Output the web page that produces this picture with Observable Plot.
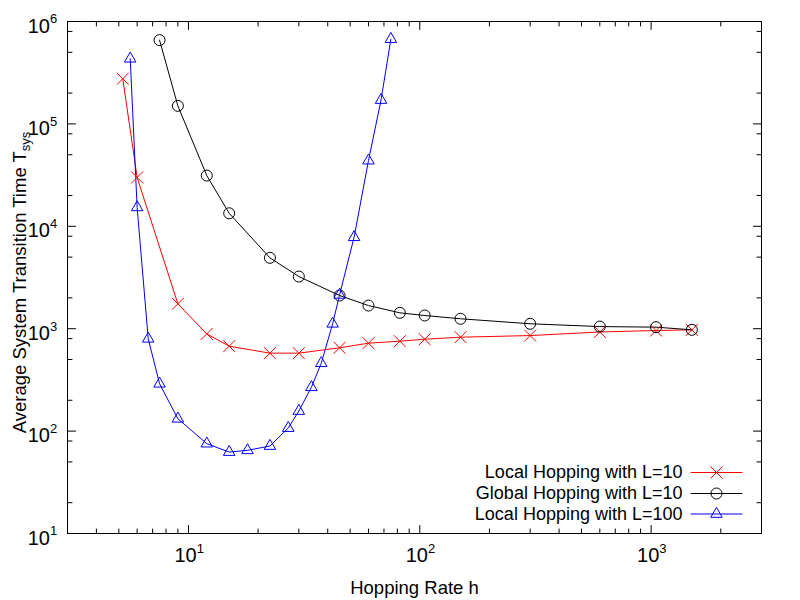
<!DOCTYPE html>
<html>
<head>
<meta charset="utf-8">
<script src="https://cdn.jsdelivr.net/npm/d3@7"></script>
<script src="https://cdn.jsdelivr.net/npm/@observablehq/plot@0.6"></script>
<style>
  html, body { margin: 0; padding: 0; background: white; }
</style>
</head>
<body>
<div id="chart"></div>
<script>
// ---- data ----
const localL10_h = [5.2, 6, 9, 12, 15, 22.5, 30, 45, 60, 82, 105, 150, 300, 600, 1050, 1500];
const localL10_T = [276000, 30000, 1750, 890, 675, 577, 577, 651, 722, 755, 789, 826, 857, 929, 960, 975];

const globalL10_h = [7.5, 9, 12, 15, 22.5, 30, 45, 60, 82, 105, 150, 300, 600, 1050, 1500];
const globalL10_T = [658000, 150000, 31300, 13400, 4920, 3230, 2110, 1683, 1429, 1346, 1250, 1117, 1049, 1035, 975];

const localL100_h = [5.6, 6, 6.7, 7.5, 9, 12, 15, 18, 22.5, 27, 30, 34, 37.5, 42, 45, 52, 60, 68, 75];
const localL100_T = [433000, 15300, 797, 290, 132, 75.4, 62.4, 64.9, 71.5, 107, 157, 268, 460, 1117, 2140, 7820, 43800, 171000, 673000];

const seriesNames = ["Local Hopping with L=10", "Global Hopping with L=10", "Local Hopping with L=100"];
const seriesColors = ["#ff0000", "#000000", "#0000ff"];
const seriesSymbols = ["times", "circle", "triangle2"];

const xMajorTicks = [10, 100, 1000];
const xMinorTicks = [4, 5, 6, 7, 8, 9, 20, 30, 40, 50, 60, 70, 80, 90, 200, 300, 400, 500, 600, 700, 800, 900, 2000];
const xTickExponents = ["1", "2", "3"];
const yMajorTicks = [10, 100, 1000, 10000, 100000, 1000000];
const yMinorTicks = [20, 50, 80, 200, 500, 800, 2000, 5000, 8000, 20000, 50000, 80000, 200000, 500000, 800000];
const yTickExponents = ["1", "2", "3", "4", "5", "6"];

const xTitle = "Hopping Rate h";
const yTitle = "Average System Transition Time T";
const yTitleSub = "sys";

// ---- build tables ----
const series = [
  localL10_h.map((h, i) => ({h, T: localL10_T[i], s: 0})),
  globalL10_h.map((h, i) => ({h, T: globalL10_T[i], s: 1})),
  localL100_h.map((h, i) => ({h, T: localL100_T[i], s: 2}))
];

const tickShape = {draw(context, l) { context.moveTo(0, 0); context.lineTo(0, -l); }};
const FONT = "'Liberation Sans', Arial, Helvetica, sans-serif";

function ticks(values, len) {
  return [
    Plot.vector(values, {x: d => d, frameAnchor: "bottom", length: len, rotate: 0, anchor: "start", shape: tickShape, stroke: "black", strokeWidth: 1}),
    Plot.vector(values, {x: d => d, frameAnchor: "top", length: len, rotate: 180, anchor: "start", shape: tickShape, stroke: "black", strokeWidth: 1})
  ];
}
function yticks(values, len) {
  return [
    Plot.vector(values, {y: d => d, frameAnchor: "left", length: len, rotate: 90, anchor: "start", shape: tickShape, stroke: "black", strokeWidth: 1}),
    Plot.vector(values, {y: d => d, frameAnchor: "right", length: len, rotate: -90, anchor: "start", shape: tickShape, stroke: "black", strokeWidth: 1})
  ];
}

const legendMarks = [];
const legendDy = [-61, -40, -19.5];
seriesNames.forEach((name, i) => {
  legendMarks.push(
    Plot.text([name], {frameAnchor: "bottom-right", text: d => d, dx: -79, dy: legendDy[i], textAnchor: "end", lineAnchor: "middle", fontSize: 18, fill: "black"}),
    Plot.vector([0], {frameAnchor: "bottom-right", dx: -70.5, dy: legendDy[i], length: 51, rotate: 90, anchor: "start", shape: tickShape, stroke: seriesColors[i], strokeWidth: 1}),
    Plot.dot([0], {frameAnchor: "bottom-right", dx: -45, dy: legendDy[i], symbol: seriesSymbols[i], r: 5.5, stroke: seriesColors[i], fill: "none", strokeWidth: 1})
  );
});

const chart = Plot.plot({
  width: 800,
  height: 600,
  marginLeft: 67,
  marginRight: 39,
  marginTop: 21,
  marginBottom: 67,
  x: {type: "log", domain: [3, 3000], axis: null},
  y: {type: "log", domain: [10, 1e6], axis: null},
  style: {fontFamily: FONT, background: "white", color: "black"},
  marks: [
    ...series.map((data, i) => Plot.line(data, {x: "h", y: "T", stroke: seriesColors[i], strokeWidth: 1})),
    ...series.map((data, i) => Plot.dot(data, {x: "h", y: "T", symbol: seriesSymbols[i], r: 5.5, stroke: seriesColors[i], fill: "none", strokeWidth: 1})),
    ...ticks(xMajorTicks, 8),
    ...ticks(xMinorTicks, 4.5),
    ...yticks(yMajorTicks, 8),
    ...yticks(yMinorTicks, 4.5),
    Plot.frame({stroke: "black", strokeWidth: 1}),
    // x tick labels
    Plot.text(xMajorTicks, {x: d => d, frameAnchor: "bottom", text: () => "10", dx: 8.2, dy: 28.4, textAnchor: "end", lineAnchor: "bottom", fontSize: 20, fill: "black"}),
    Plot.text(xMajorTicks, {x: d => d, frameAnchor: "bottom", text: (d, i) => xTickExponents[i], dx: 8.2, dy: 19.3, textAnchor: "start", lineAnchor: "bottom", fontSize: 13, fill: "black"}),
    // y tick labels
    Plot.text(yMajorTicks, {y: d => d, frameAnchor: "left", text: () => "10", dx: -17.5, dy: 11, textAnchor: "end", lineAnchor: "bottom", fontSize: 20, fill: "black"}),
    Plot.text(yMajorTicks, {y: d => d, frameAnchor: "left", text: (d, i) => yTickExponents[i], dx: -17.5, dy: 1.9, textAnchor: "start", lineAnchor: "bottom", fontSize: 13, fill: "black"}),
    // titles
    Plot.text([xTitle], {frameAnchor: "bottom", text: d => d, dy: 60.7, textAnchor: "middle", lineAnchor: "bottom", fontSize: 18.5, fill: "black"}),
    Plot.text([yTitle], {frameAnchor: "left", text: d => d, dx: -42, dy: 5, rotate: -90, textAnchor: "middle", lineAnchor: "bottom", fontSize: 18.5, fill: "black"}),
    ...legendMarks
  ]
});

// add the subscript to the y title
d3.select(chart).selectAll("text")
  .filter(function () { return this.textContent === yTitle; })
  .append("tspan")
  .attr("font-size", 13)
  .attr("dy", 4)
  .text(yTitleSub);

document.getElementById("chart").appendChild(chart);
</script>
</body>
</html>
